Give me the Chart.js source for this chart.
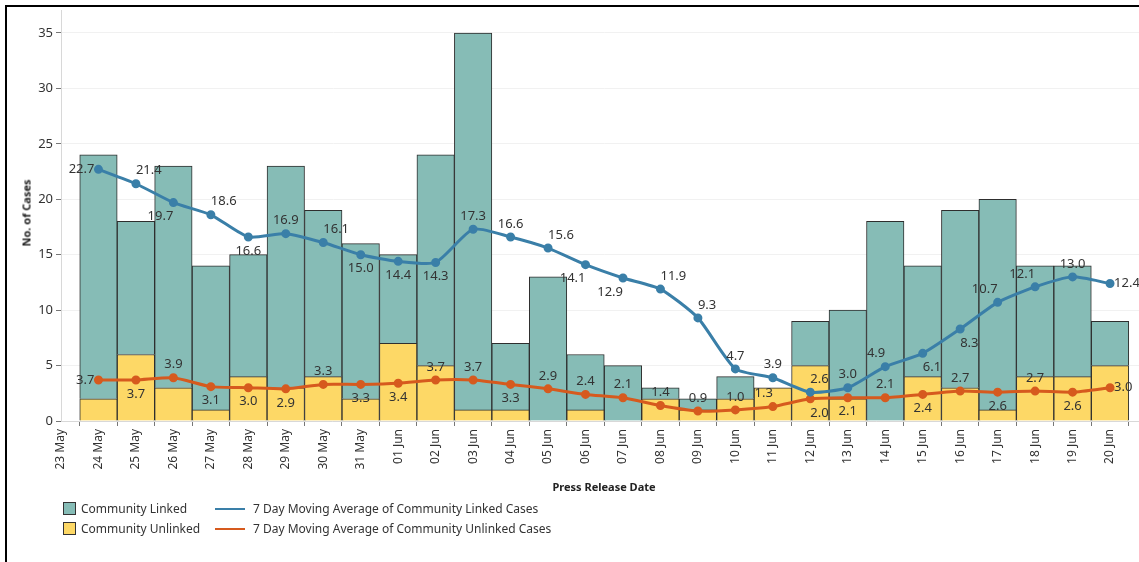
<!DOCTYPE html>
<html><head><meta charset="utf-8">
<script src="https://cdn.jsdelivr.net/npm/chart.js@4/dist/chart.umd.min.js"></script>
<style>
html,body{margin:0;padding:0;width:1139px;height:562px;overflow:hidden;background:#fff;font-family:"Noto Sans",sans-serif;color:#333;}
#frame{position:absolute;left:5px;top:5px;width:2000px;height:2000px;border-left:2px solid #000;border-top:2px solid #000;box-sizing:border-box;}
#wrap{position:absolute;left:0;top:0;width:1200px;height:562px;}
.ytitle{position:absolute;left:26px;top:213px;transform:translate(-50%,-50%) rotate(-90deg);font-weight:bold;font-size:11px;color:#222;white-space:nowrap;}
.xtitle{position:absolute;left:604px;top:486px;transform:translate(-50%,-50%);font-weight:bold;font-size:11px;color:#222;white-space:nowrap;}
.lg{position:absolute;font-size:12px;color:#333;white-space:nowrap;line-height:14px;}
.sq{position:absolute;width:11px;height:11px;border:1px solid #333;}
.ln{position:absolute;width:30px;height:2px;}
</style>
</head><body>
<div id="frame"></div>
<div id="wrap"><canvas id="c" width="1200" height="562"></canvas></div>
<div class="ytitle">No. of Cases</div>
<div class="xtitle">Press Release Date</div>
<div class="sq" style="left:63px;top:502px;background:#86bcb6"></div>
<div class="lg" style="left:81px;top:502px">Community Linked</div>
<div class="sq" style="left:63px;top:522px;background:#fdd866"></div>
<div class="lg" style="left:81px;top:522px">Community Unlinked</div>
<div class="ln" style="left:215px;top:508px;background:#3a7fa8"></div>
<div class="lg" style="left:253px;top:502px">7 Day Moving Average of Community Linked Cases</div>
<div class="ln" style="left:215px;top:528px;background:#d65a1e"></div>
<div class="lg" style="left:253px;top:522px">7 Day Moving Average of Community Unlinked Cases</div>
<script>
const tickLabels = ['23 May','24 May','25 May','26 May','27 May','28 May','29 May','30 May','31 May',
  '01 Jun','02 Jun','03 Jun','04 Jun','05 Jun','06 Jun','07 Jun','08 Jun','09 Jun','10 Jun',
  '11 Jun','12 Jun','13 Jun','14 Jun','15 Jun','16 Jun','17 Jun','18 Jun','19 Jun','20 Jun','21 Jun'];
const dates = ['24 May','25 May','26 May','27 May','28 May','29 May','30 May','31 May',
  '01 Jun','02 Jun','03 Jun','04 Jun','05 Jun','06 Jun','07 Jun','08 Jun','09 Jun','10 Jun',
  '11 Jun','12 Jun','13 Jun','14 Jun','15 Jun','16 Jun','17 Jun','18 Jun','19 Jun','20 Jun'];
const linked   = [22,12,20,13,11,20,15,14,8,19,34,6,13,5,5,1,1,2,0,4,8,18,10,16,19,10,10,4];
const unlinked = [2,6,3,1,4,3,4,2,7,5,1,1,0,1,0,2,1,2,3,5,2,0,4,3,1,4,4,5];
const maLinked   = [22.7,21.4,19.7,18.6,16.6,16.9,16.1,15.0,14.4,14.3,17.3,16.6,15.6,14.1,12.9,11.9,9.3,4.7,3.9,2.6,3.0,4.9,6.1,8.3,10.7,12.1,13.0,12.4];
const maUnlinked = [3.7,3.7,3.9,3.1,3.0,2.9,3.3,3.3,3.4,3.7,3.7,3.3,2.9,2.4,2.1,1.4,0.9,1.0,1.3,2.0,2.1,2.1,2.4,2.7,2.6,2.7,2.6,3.0];

// label placement codes (style, not data)
const linkedPos   = ['l','ar','bl','ar','b','a','ar','b','b','b','a','a','ar','bl','bl','ar','ar','a','a','ar','a','al','br','br','al','al','a','r'];
const unlinkedPos = ['l','b','a','b','b','b','a','b','b','a','a','b','a','a','a','a','a','a','al','br','b','a','b','a','b','a','b','r'];

const pts = arr => dates.map((d,i)=>({x:d, y:arr[i]}));

const labelPlugin = {
  id:'ptLabels',
  afterDatasetsDraw(chart){
    const ctx = chart.ctx;
    ctx.save();
    ctx.font = '13px "Noto Sans"';
    ctx.fillStyle = '#333';
    ctx.textBaseline = 'middle';
    ctx.textAlign = 'center';
    chart.data.datasets.forEach((ds,di)=>{
      if(!ds.labelPos) return;
      const meta = chart.getDatasetMeta(di);
      meta.data.forEach((pt,i)=>{
        const txt = ds.data[i].y.toFixed(1);
        const w = ctx.measureText(txt).width;
        const p = ds.labelPos[i];
        let x = pt.x, y = pt.y;
        if(p[0]==='a') y -= 13; else if(p[0]==='b') y += 14;
        if(p==='l') x -= w/2 + 4;
        else if(p==='r') x += w/2 + 4;
        else if(p[1]==='r') x += w/2;
        else if(p[1]==='l') x -= w/2;
        ctx.fillText(txt, x, y);
      });
    });
    ctx.restore();
  }
};

new Chart(document.getElementById('c'), {
  data:{
    labels: tickLabels,
    datasets:[
      {type:'line', label:'7 Day Moving Average of Community Linked Cases', data:pts(maLinked), labelPos:linkedPos,
       borderColor:'#3a7fa8', backgroundColor:'#3a7fa8', borderWidth:3, pointRadius:3, pointHoverRadius:3,
       tension:0.2, stack:'ma1', order:0},
      {type:'line', label:'7 Day Moving Average of Community Unlinked Cases', data:pts(maUnlinked), labelPos:unlinkedPos,
       borderColor:'#d65a1e', backgroundColor:'#d65a1e', borderWidth:3, pointRadius:3, pointHoverRadius:3,
       tension:0.2, stack:'ma2', order:0},
      {type:'bar', label:'Community Unlinked', data:pts(unlinked), backgroundColor:'#fdd866',
       borderColor:'#2e2e2e', borderWidth:1, stack:'cases', order:2, barPercentage:1, categoryPercentage:1},
      {type:'bar', label:'Community Linked', data:pts(linked), backgroundColor:'#86bcb6',
       borderColor:'#2e2e2e', borderWidth:1, stack:'cases', order:2, barPercentage:1, categoryPercentage:1}
    ]
  },
  options:{
    responsive:false, animation:false, devicePixelRatio:1,
    layout:{padding:{left:0,right:52.5,top:8,bottom:0}},
    plugins:{legend:{display:false}, tooltip:{enabled:false}},
    scales:{
      x:{type:'category', labels:tickLabels, offset:false, stacked:true,
         grid:{drawOnChartArea:false, drawTicks:true, tickLength:5, tickColor:'#777'},
         border:{color:'#d8d8d8'},
         ticks:{autoSkip:false, maxRotation:90, minRotation:90, color:'#333', font:{family:'Noto Sans', size:12}, padding:3},
         afterFit(s){ s.height = 141; }},
      y:{stacked:true, min:0, max:37,
         grid:{color:'#f1f1f1', tickLength:5, tickColor:'#777'},
         border:{color:'#d8d8d8'},
         ticks:{stepSize:5, includeBounds:false, color:'#333', font:{family:'Noto Sans', size:13}, padding:3},
         afterFit(s){ s.width = 61; }}
    }
  },
  plugins:[labelPlugin]
});
</script>
</body></html>
